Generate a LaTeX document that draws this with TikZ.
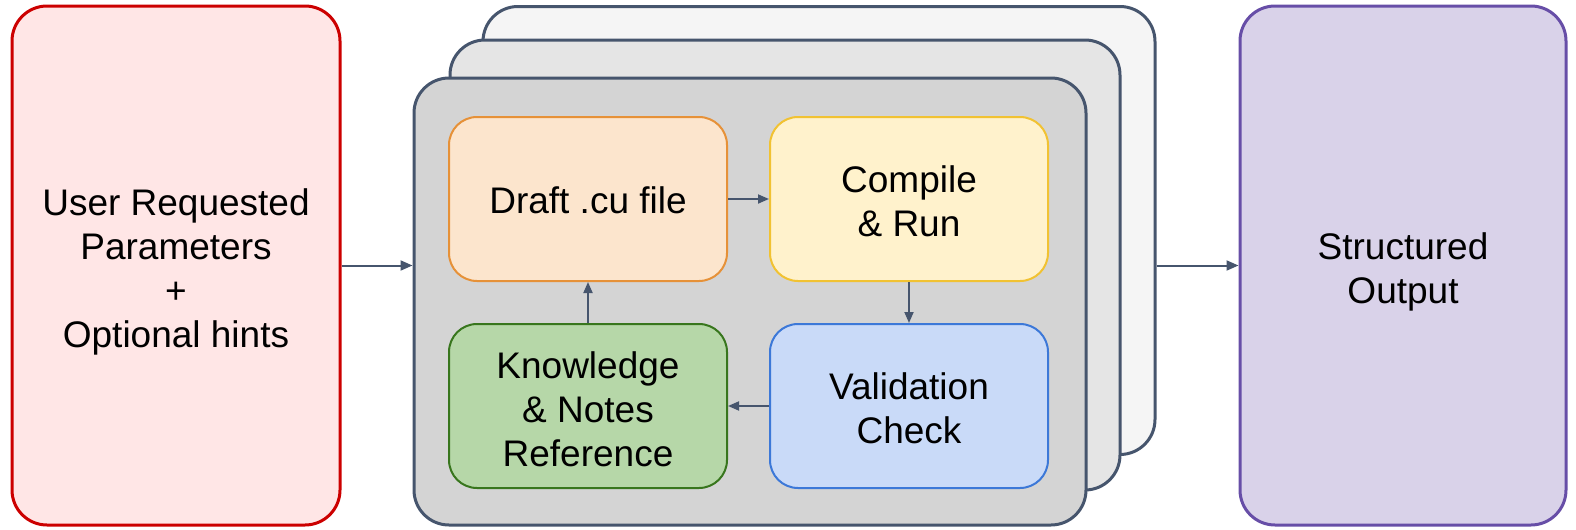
\documentclass[tikz,border=0pt]{standalone}
\usepackage{fontspec}
\setmainfont{Liberation Sans}
\usetikzlibrary{arrows.meta}
\definecolor{slate}{HTML}{46556D}
\definecolor{redline}{HTML}{CC0000}
\definecolor{redfill}{HTML}{FFE6E6}
\definecolor{purpline}{HTML}{674EA7}
\definecolor{purpfill}{HTML}{D9D2E9}
\definecolor{orline}{HTML}{E69138}
\definecolor{orfill}{HTML}{FCE5CD}
\definecolor{yelline}{HTML}{F1C232}
\definecolor{yelfill}{HTML}{FFF2CC}
\definecolor{grline}{HTML}{38761D}
\definecolor{grfill}{HTML}{B6D7A8}
\definecolor{blline}{HTML}{3C78D8}
\definecolor{blfill}{HTML}{C9DAF8}
\begin{document}
\begin{tikzpicture}[x=0.5pt,y=-0.5pt,
  txt/.style={font=\fontsize{18.5pt}{22pt}\selectfont, align=center},
  bigbox/.style={txt, draw, line width=1.5pt, rounded corners=17.5pt,
    minimum width=163pt, minimum height=259.5pt, inner sep=0pt},
  layer/.style={draw=slate, line width=1.5pt, rounded corners=17.5pt,
    minimum width=336pt, minimum height=224pt, inner sep=0pt},
  stepbox/.style={txt, draw, line width=1pt, rounded corners=14pt,
    minimum width=139pt, minimum height=82pt, inner sep=0pt},
  arr/.style={draw=slate, line width=1pt, -{Triangle[length=6pt,width=5pt]}},
  arrs/.style={draw=slate, line width=0.9pt, -{Triangle[length=5.5pt,width=4.5pt]}}]
\useasboundingbox (0,0) rectangle (1576,530);

% input and output panels
\node[bigbox, draw=redline, fill=redfill, minimum width=164pt] (user) at (176,265.5) {};
\node[txt] at ([yshift=-3pt]user.center) {User Requested\\Parameters\\+\\Optional hints};
\node[bigbox, draw=purpline, fill=purpfill] (out) at (1403,265.5) {};
\node[txt] at ([yshift=-3pt]out.center) {Structured\\Output};

% stacked iteration layers
\node[layer, fill=black!4] (back) at (819,230.5) {};
\node[layer, fill=black!10, minimum width=335pt, minimum height=225pt] (mid) at (785,265) {};
\node[layer, fill=black!17, minimum height=223.5pt] (front) at (750,301.5) {};

% loop steps
\node[stepbox, draw=orline, fill=orfill] (draft) at (588,199) {};
\node[txt] at ([yshift=-0.7pt]draft.center) {Draft .cu file};
\node[stepbox, draw=yelline, fill=yelfill] (comp) at (909,199) {};
\node[txt] at ([yshift=-1pt]comp.center) {Compile\\\& Run};
\node[stepbox, draw=blline, fill=blfill] (valid) at (909,406) {};
\node[txt] at ([yshift=-1pt]valid.center) {Validation\\Check};
\node[stepbox, draw=grline, fill=grfill] (know) at (588,406) {};
\node[txt] at ([yshift=-1.5pt]know.center) {Knowledge\\\& Notes\\Reference};

% connectors
\draw[arr] (user.east) -- (user.east -| front.west);
\draw[arr] (back.east |- out.west) -- (out.west);
\draw[arrs] (draft.east) -- (comp.west);
\draw[arrs] (comp.south) -- (valid.north);
\draw[arrs] (valid.west) -- (know.east);
\draw[arrs] (know.north) -- (draft.south);
\end{tikzpicture}
\end{document}
